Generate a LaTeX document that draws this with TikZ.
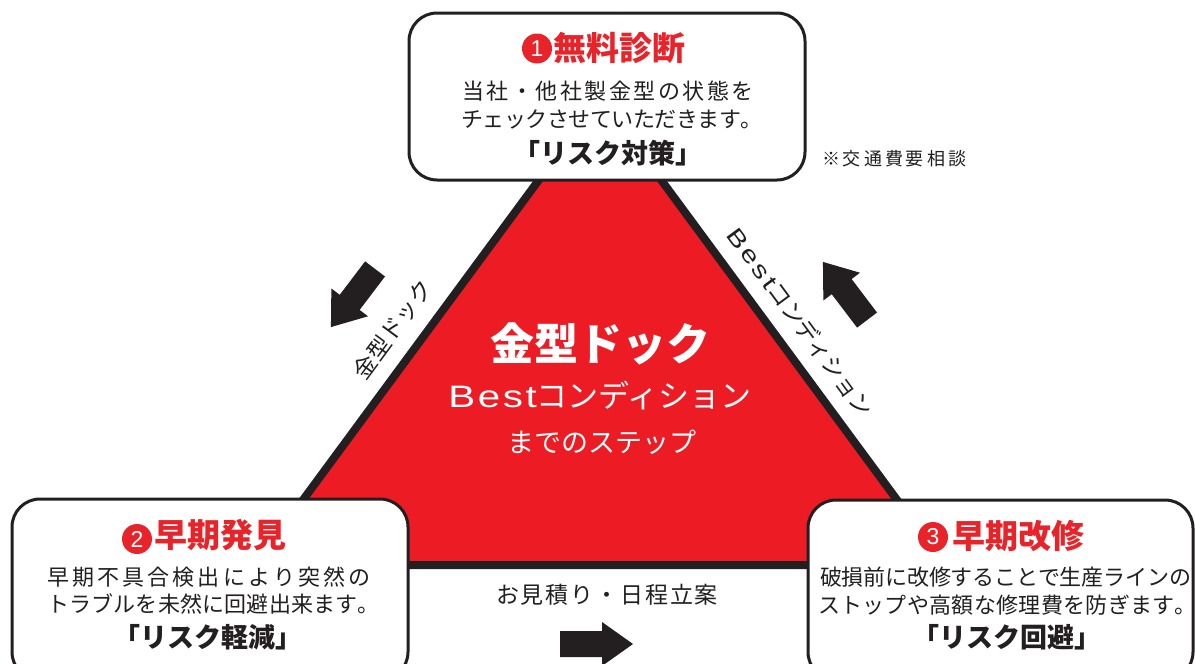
\documentclass[tikz,border=0pt]{standalone}
\usepackage{fontspec}
\usepackage{graphicx}
\setmainfont{Noto Sans CJK JP}
\newfontfamily\lat{Liberation Sans}
\definecolor{tri}{HTML}{ED1C24}
\definecolor{ttl}{HTML}{E8242A}
\definecolor{ink}{HTML}{231F20}
\makeatletter
\def\spr@ad#1#2\@nil{#1\if\relax\detokenize{#2}\relax\else\hskip 0pt plus 1fil minus 4pt\spr@ad#2\@nil\fi}
\newcommand\fitline[2]{\makebox[#1][s]{\spr@ad#2\@nil}}
\makeatother
\newcommand\bestword[2]{{\lat\scalebox{1.3}[1]{\fitline{#1}{#2}}}}
\begin{document}
\begin{tikzpicture}[x=1pt,y=-1pt,
  box/.style={draw=ink, line width=3pt, fill=white, rounded corners=28pt, inner sep=0},
  ttlstyle/.style={text=ttl, font=\fontsize{33}{33}\selectfont\bfseries, anchor=west, inner sep=0},
  num/.style={circle, fill=ttl, text=white, inner sep=0, minimum size=30pt, font=\lat\fontsize{23}{23}\selectfont},
  body/.style={text=ink, font=\fontsize{22}{22}\selectfont, inner sep=0},
  risk/.style={text=ink, font=\fontsize{27}{27}\selectfont\bfseries, inner sep=0},
  side/.style={text=ink, font=\fontsize{23}{23}\selectfont, inner sep=0},
  center/.style={text=white, inner sep=0},
  blk/.style={fill=ink}]
\useasboundingbox (0,0) rectangle (1195,664);
\clip (0,0) rectangle (1195,664);
\fill[white] (0,0) rectangle (1195,664);

% triangle
\draw[fill=tri, draw=ink, line width=8pt, line join=miter] (600,97) -- (255,565) -- (945,565) -- cycle;

% boxes
\node[box, minimum width=396pt, minimum height=167pt] (topbox) at (607,96.5) {};
\node[box, minimum width=396pt, minimum height=181pt] (leftbox) at (210,589.5) {};
\node[box, minimum width=385pt, minimum height=180pt] (rightbox) at (1000.5,590) {};

% top box text
\node[num] (n1) at (537,48.5) {1};
\node[ttlstyle] (t1) at (553,47.5) {無料診断};
\node[body] (t1a) at (608,91) {\fitline{292pt}{当社・他社製金型の状態を}};
\node[body] (t1b) at (612,119) {\fitline{301pt}{チェックさせていただきます。}};
\node[risk] (t1c) at (607.5,153) {「リスク対策」};

% left box text
\node[num] (n2) at (137,539) {2};
\node[ttlstyle] (t2) at (154,535) {早期発見};
\node[body] (t2a) at (209,577) {\fitline{324pt}{早期不具合検出により突然の}};
\node[body] (t2b) at (213.5,604) {\fitline{333pt}{トラブルを未然に回避出来ます。}};
\node[risk] (t2c) at (208,637) {「リスク軽減」};

% right box text
\node[num] (n3) at (933,537) {3};
\node[ttlstyle] (t3) at (952,536) {早期改修};
\node[body] (t3a) at (1005.5,577) {\fitline{371pt}{破損前に改修することで生産ラインの}};
\node[body] (t3b) at (1007.5,605) {\fitline{379pt}{ストップや高額な修理費を防ぎます。}};
\node[risk] (t3c) at (1006.5,637) {「リスク回避」};

% centre text
\node[center, font=\fontsize{44}{44}\selectfont\bfseries] (c1) at (600,344) {金型ドック};
\node[center, font=\fontsize{31}{31}\selectfont] (c2) at (600,395) {\bestword{68pt}{Best}コンディション};
\node[center, font=\fontsize{27}{27}\selectfont] (c3) at (602,442) {までのステップ};

% side labels
\node[side, rotate=53.6] (sl) at (392.5,329.5) {金型ドック};
\node[side, rotate=-53.6] (sr) at (800.5,322) {\bestword{53pt}{Best}コンディション};
\node[text=ink, inner sep=0, font=\fontsize{18}{18}\selectfont] (note) at (894,159) {\fitline{144pt}{※交通費要相談}};
\node[side] (est) at (607,595) {\fitline{222pt}{お見積り・日程立案}};

% block arrows
\begin{scope}[shift={(353,298)}, rotate=232.8]
  \fill[blk] (-36.5,-12.5) -- (5.5,-12.5) -- (5.5,-23) -- (36.5,0) -- (5.5,23) -- (5.5,12.5) -- (-36.5,12.5) -- cycle;
\end{scope}
\begin{scope}[shift={(845,291)}, rotate=127.2]
  \fill[blk] (-36.5,-12.5) -- (5.5,-12.5) -- (5.5,-23) -- (36.5,0) -- (5.5,23) -- (5.5,12.5) -- (-36.5,12.5) -- cycle;
\end{scope}
\begin{scope}[shift={(596.5,644)}]
  \fill[blk] (-36.5,-13) -- (5.5,-13) -- (5.5,-22) -- (36.5,0) -- (5.5,22) -- (5.5,13) -- (-36.5,13) -- cycle;
\end{scope}
\end{tikzpicture}
\end{document}
